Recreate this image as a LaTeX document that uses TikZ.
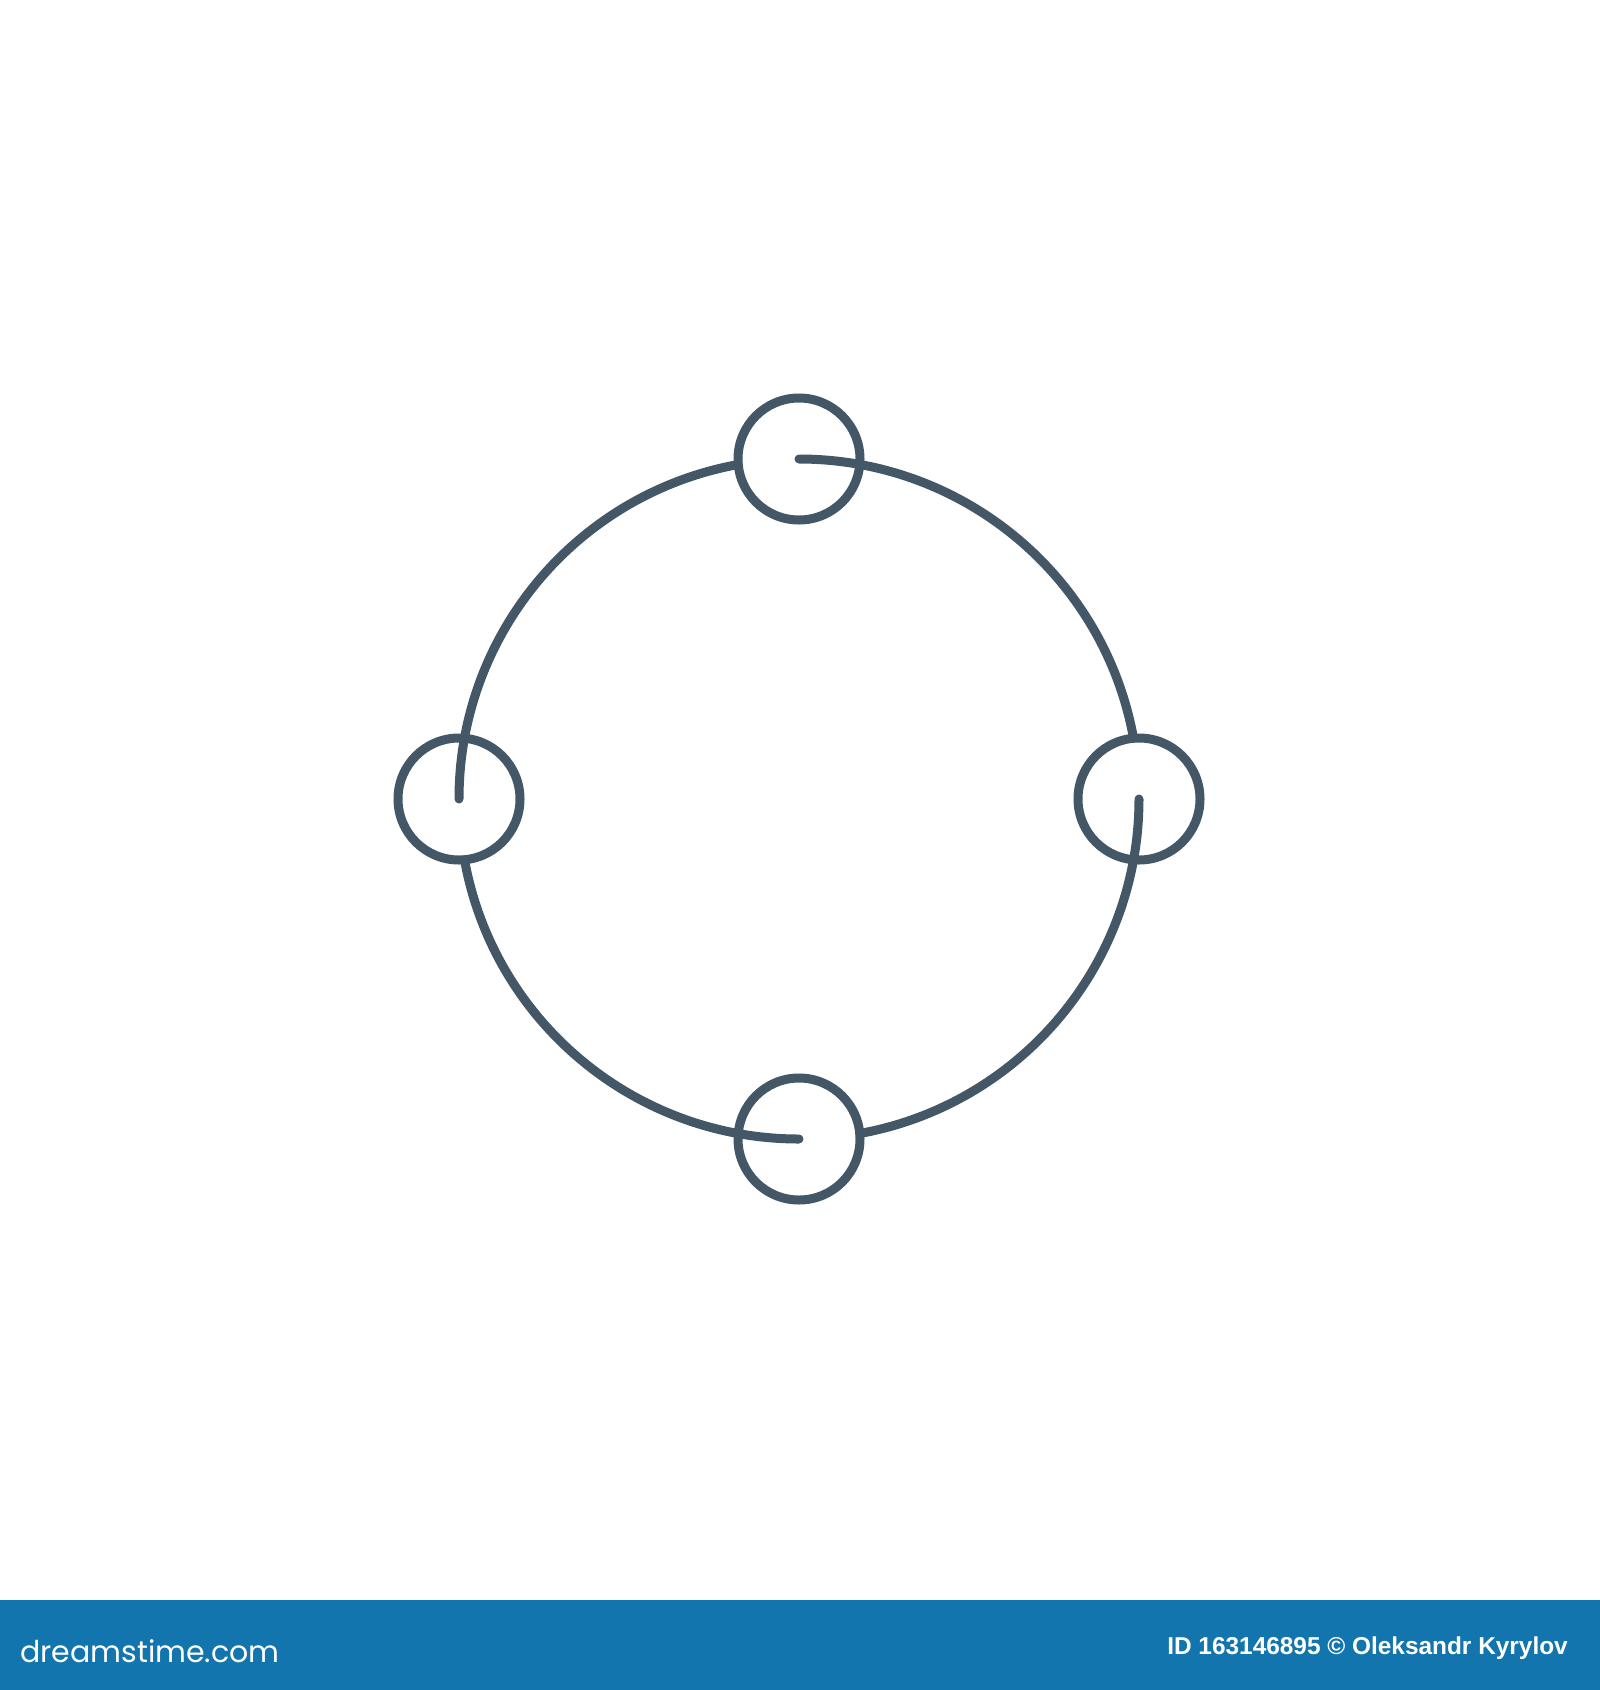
\documentclass[tikz,border=0pt]{standalone}
\usepackage{fontspec}
\setmainfont{Liberation Sans}
\newfontfamily\logofont{Poppins}
\definecolor{ink}{RGB}{67,87,103}
\definecolor{bar}{RGB}{18,117,173}
\begin{document}
\begin{tikzpicture}[x=1pt,y=-1pt,
  ring/.style={draw=ink,line width=9pt,circle,minimum size=122pt,inner sep=0pt},
  orbit/.style={draw=ink,line width=9pt,line cap=round}]
\useasboundingbox (0,0) rectangle (1600,1690);
\fill[white] (0,0) rectangle (1600,1600);
\fill[bar] (0,1600) rectangle (1600,1690);
\node[ring] (t) at (799,459) {};
\node[ring] (r) at (1139,799) {};
\node[ring] (b) at (799,1139) {};
\node[ring] (l) at (459,799) {};
\draw[orbit] (t.center) arc[start angle=-90,end angle=-10.3,radius=340];
\draw[orbit] (r.center) arc[start angle=0,end angle=79.7,radius=340];
\draw[orbit] (b.center) arc[start angle=90,end angle=169.7,radius=340];
\draw[orbit] (l.center) arc[start angle=180,end angle=259.7,radius=340];
\node[anchor=base west,text=white,inner sep=0pt,font=\logofont\fontsize{30}{30}\selectfont] (logo) at (20,1662) {dreamstime.com};
\node[anchor=base east,text=white,inner sep=0pt,font=\bfseries\fontsize{24.4}{24.4}\selectfont] (credit) at (1568,1654) {ID 163146895 © Oleksandr Kyrylov};
\end{tikzpicture}
\end{document}
